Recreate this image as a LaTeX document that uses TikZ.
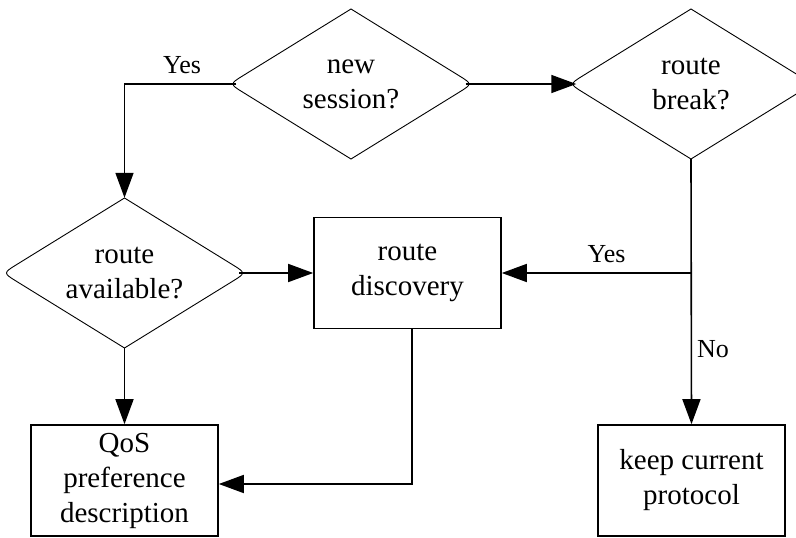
\documentclass[tikz,border=0pt]{standalone}
\usepackage{fontspec}
\setmainfont{Liberation Serif}
\usetikzlibrary{calc,arrows.meta}

% decision outline: a diamond with rounded side tips and sharp top/bottom
\newcommand{\decisionoutline}[1]{%
  \draw[decisionline]
    ($(#1.center)+(-107.5,-8.64)$) .. controls ($(#1.center)+(-121.5,0)$) .. ($(#1.center)+(-107.5,8.64)$)
    -- ($(#1.center)+(0,75)$)
    -- ($(#1.center)+(107.5,8.64)$) .. controls ($(#1.center)+(121.5,0)$) .. ($(#1.center)+(107.5,-8.64)$)
    -- ($(#1.center)+(0,-75)$) -- cycle;}

\begin{document}
\begin{tikzpicture}[x=1pt,y=-1pt,
  nodetext/.style={font=\fontsize{29}{35}\selectfont, align=center},
  decision/.style={nodetext, minimum width=229pt, minimum height=150pt, inner sep=0pt},
  decisionline/.style={line width=0.9pt},
  process/.style={nodetext, draw, line width=1.6pt, minimum width=187pt, minimum height=111pt, inner sep=0pt},
  flow/.style={line width=1.6pt, -{Triangle[length=25pt,width=18pt]}},
  plain/.style={line width=1.6pt},
  branchlabel/.style={font=\fontsize{26}{31}\selectfont, inner sep=0pt}]

\clip (0,0) rectangle (796,538);

% decisions
\node[decision] (ns) at (351,84) {new\\session?};
\node[decision] (rb) at (691,84) {route\\break?};
\node[decision] (ra) at (124.5,273) {route\\available?};
\decisionoutline{ns}
\decisionoutline{rb}
\decisionoutline{ra}

% processes
\node[process] (rd)  at (407.5,273)  {route\\discovery};
\node[process] (qos) at (124.5,480.5) {QoS\\preference\\description};
\node[process] (kcp) at (691.5,480.5) {keep current\\protocol};

% connectors
\draw[flow] (ns.west) -| (ra.north);
\draw[flow] (ns.east) -- (rb.west);
\draw[flow] (rb.south) -- (kcp.north);
\coordinate (split) at (rb.south |- rd.east);
\draw[flow] (split) -- (rd.east);
\draw[flow] (ra.east) -- (rd.west);
\draw[flow] (ra.south) -- (qos.north);
\coordinate (rdout) at ($(rd.south)+(4.5,0)$);
\coordinate (qosin) at ($(qos.east)+(0,3.5)$);
\draw[flow] (rdout) |- (qosin);

% branch labels
\node[branchlabel, anchor=base] (yes1) at (182,73) {Yes};
\node[branchlabel, anchor=base] (yes2) at (606.5,262) {Yes};
\node[branchlabel, anchor=base west] (no1) at (697,357) {No};
\end{tikzpicture}
\end{document}
